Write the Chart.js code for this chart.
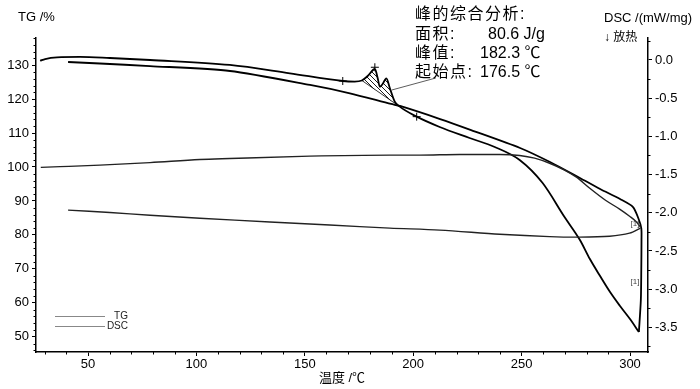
<!DOCTYPE html>
<html><head><meta charset="utf-8">
<script src="https://cdn.jsdelivr.net/npm/chart.js@4.4.0/dist/chart.umd.min.js"></script>
<style>html,body{margin:0;padding:0;background:#fff;}</style>
</head><body>
<canvas id="c" width="700" height="389"></canvas>
<script>
const FONT = "'Liberation Sans', Arial, 'Noto Sans CJK SC', sans-serif";

// ---- data (temperature °C, TG %, DSC mW/mg) ----
const tgHeatT   = [28.2, 37.1, 55.5, 78.6, 101.6, 115.4, 152.3, 189.2, 203.0, 221.4, 239.9, 249.1, 256.0, 262.9, 269.8, 275.3, 281.3, 288.7, 295.2, 299.8, 303.0, 304.8];
const tgHeatVal = [99.9, 100.1, 100.55, 101.3, 102.2, 102.5, 103.2, 103.5, 103.5, 103.7, 103.7, 103.4, 102.6, 101.1, 99.1, 97.0, 93.8, 90.2, 87.6, 85.5, 83.8, 82.3];

const tgCoolT   = [304.8, 299.8, 290.6, 276.7, 262.9, 239.9, 212.2, 189.2, 161.5, 133.9, 101.6, 78.6, 60.1, 40.8];
const tgCoolVal = [82.0, 80.5, 79.6, 79.35, 79.5, 80.2, 81.4, 82.0, 82.9, 83.8, 84.9, 85.8, 86.6, 87.3];

const dscHeatT   = [27.9, 30.2, 35.7, 46.3, 60.1, 78.6, 115.4, 143.1, 167.5, 173.0, 176.3, 179.0, 182.3, 183.6, 184.6, 185.9, 187.6, 189.2, 191.5, 193.8, 201.6, 212.2, 226.0, 237.6, 249.1, 259.7, 269.8, 276.9, 281.5, 286.2, 290.8, 295.4, 300.0, 304.1];
const dscHeatVal = [-0.01, 0.013, 0.035, 0.04, 0.026, 0.0, -0.065, -0.174, -0.275, -0.282, -0.268, -0.21, -0.118, -0.236, -0.35, -0.314, -0.24, -0.367, -0.546, -0.611, -0.742, -0.877, -1.021, -1.139, -1.309, -1.611, -2.056, -2.357, -2.606, -2.829, -3.038, -3.221, -3.392, -3.562];

const dscCoolT   = [304.1, 305.0, 305.2, 305.3, 305.2, 303.8, 301.4, 295.4, 286.2, 276.9, 263.1, 249.3, 226.7, 212.4, 193.9, 189.8, 170.8, 152.4, 115.5, 78.6, 55.5, 40.8];
const dscCoolVal = [-3.562, -3.143, -2.75, -2.357, -2.2, -2.069, -1.925, -1.82, -1.689, -1.545, -1.336, -1.152, -0.917, -0.773, -0.602, -0.576, -0.436, -0.327, -0.144, -0.079, -0.046, -0.026];

// peak analysis
const baselineT   = [176.3, 193.8];
const baselineDSC = [-0.268, -0.611];
const markerT   = [167.5, 182.3, 201.6];
const markerDSC = [-0.275, -0.095, -0.742];
const leaderT   = [190.1, 210.4];
const leaderDSC = [-0.393, -0.236];
const segMarkT   = [302.3, 302.3];
const segMarkDSC = [-2.147, -2.907];
const segMarkText = ['[1]', '[1]'];

const peakTitle  = '峰的综合分析:';
const peakLabels = ['面积:', '峰值:', '起始点:'];
const peakValues = ['80.6 J/g', '182.3 ℃', '176.5 ℃'];

// ticks
const xTicks   = [50, 100, 150, 200, 250, 300];
const tgTicks  = [50, 60, 70, 80, 90, 100, 110, 120, 130];
const dscTicks = [0.0, -0.5, -1.0, -1.5, -2.0, -2.5, -3.0, -3.5];
const xMinorStep = 10, tgMinorStep = 2, dscMinorStep = 0.25;

const pts = (xs, ys) => xs.map((x, i) => ({x: x, y: ys[i]}));

const canvas = document.getElementById('c');
const ctx0 = canvas.getContext('2d');
function makeHatch() {
  const c = document.createElement('canvas');
  c.width = 5; c.height = 5;
  const g = c.getContext('2d');
  g.strokeStyle = '#000'; g.lineWidth = 0.9;
  g.beginPath();
  g.moveTo(0, 0); g.lineTo(5, 5);
  g.moveTo(-1, 4); g.lineTo(1, 6);
  g.moveTo(4, -1); g.lineTo(6, 1);
  g.stroke();
  return ctx0.createPattern(c, 'repeat');
}
const hatch = makeHatch();

const peakPts = pts(dscHeatT, dscHeatVal).filter(p => p.x >= baselineT[0] && p.x <= baselineT[1]);

const extras = {
  id: 'extras',
  afterDraw(chart) {
    const {ctx, chartArea: a, scales} = chart;
    const xs = scales.x, yl = scales.y, yr = scales.y2;
    ctx.save();
    // minor ticks
    ctx.strokeStyle = '#000'; ctx.lineWidth = 1;
    ctx.beginPath();
    for (let k = Math.ceil(xs.min / xMinorStep); k * xMinorStep <= xs.max; k++) {
      const v = k * xMinorStep; if (xTicks.includes(v)) continue;
      const p = Math.round(xs.getPixelForValue(v)) + 0.5;
      ctx.moveTo(p, a.bottom); ctx.lineTo(p, a.bottom + 2.5);
    }
    for (let k = Math.ceil(yl.min / tgMinorStep); k * tgMinorStep <= yl.max; k++) {
      const v = k * tgMinorStep; if (tgTicks.includes(v)) continue;
      const p = Math.round(yl.getPixelForValue(v)) + 0.5;
      ctx.moveTo(a.left, p); ctx.lineTo(a.left - 2.5, p);
    }
    for (let k = Math.ceil(yr.min / dscMinorStep); k * dscMinorStep <= yr.max + 1e-9; k++) {
      if (k % 2 === 0) continue;
      const p = Math.round(yr.getPixelForValue(k * dscMinorStep)) + 0.5;
      ctx.moveTo(a.right, p); ctx.lineTo(a.right + 2.5, p);
    }
    ctx.stroke();

    ctx.fillStyle = '#000';
    ctx.textBaseline = 'middle';
    ctx.textAlign = 'left';
    // axis titles
    ctx.font = '13px ' + FONT;
    ctx.fillText('TG /%', 18, 17);
    ctx.fillText('DSC /(mW/mg)', 604, 18);
    ctx.font = '12px ' + FONT;
    ctx.fillText('↓ 放热', 604, 38);

    // peak analysis block
    const rows = [15, 34.3, 53.8, 72.8];
    ctx.font = '16px ' + FONT;
    try { ctx.letterSpacing = '1.5px'; } catch (e) {}
    ctx.fillText(peakTitle, 415, rows[0]);
    peakLabels.forEach((t, i) => ctx.fillText(t, 415, rows[i + 1]));
    try { ctx.letterSpacing = '0px'; } catch (e) {}
    const valX = [488, 480, 480];
    peakValues.forEach((t, i) => ctx.fillText(t, valX[i], rows[i + 1]));

    // segment marks
    ctx.font = '8px ' + FONT;
    ctx.fillStyle = '#444';
    ctx.textAlign = 'center';
    segMarkText.forEach((t, i) => ctx.fillText(t, xs.getPixelForValue(segMarkT[i]), yr.getPixelForValue(segMarkDSC[i])));

    // legend
    const labels = ['TG', 'DSC'];
    const ly = [316.5, 326.5];
    ctx.strokeStyle = '#888'; ctx.lineWidth = 1;
    ctx.font = '10px ' + FONT; ctx.fillStyle = '#222'; ctx.textAlign = 'right';
    labels.forEach((t, i) => {
      ctx.beginPath(); ctx.moveTo(a.left + 19, ly[i]); ctx.lineTo(a.left + 69, ly[i]); ctx.stroke();
      ctx.fillText(t, a.left + 92, ly[i]);
    });
    ctx.restore();
  }
};

new Chart(canvas, {
  type: 'line',
  data: {
    datasets: [
      {label: 'TG', data: pts(tgHeatT, tgHeatVal), yAxisID: 'y', borderColor: '#222', borderWidth: 1.4, pointRadius: 0, fill: false, cubicInterpolationMode: 'monotone'},
      {label: 'TG', data: pts(tgCoolT, tgCoolVal), yAxisID: 'y', borderColor: '#222', borderWidth: 1.4, pointRadius: 0, fill: false, tension: 0.3},
      {label: 'DSC', data: pts(dscHeatT, dscHeatVal), yAxisID: 'y2', borderColor: '#000', borderWidth: 1.8, pointRadius: 0, fill: false, cubicInterpolationMode: 'monotone'},
      {label: 'DSC', data: pts(dscCoolT, dscCoolVal), yAxisID: 'y2', borderColor: '#000', borderWidth: 1.8, pointRadius: 0, fill: false, tension: 0.25},
      {label: 'peak', data: peakPts, yAxisID: 'y2', borderWidth: 0, borderColor: 'rgba(0,0,0,0)', pointRadius: 0, fill: '+1', backgroundColor: hatch, cubicInterpolationMode: 'monotone'},
      {label: 'baseline', data: pts(baselineT, baselineDSC), yAxisID: 'y2', borderColor: '#000', borderWidth: 0.8, pointRadius: 0, fill: false},
      {label: 'marks', data: pts(markerT, markerDSC), yAxisID: 'y2', showLine: false, pointStyle: 'cross', pointRadius: 4, borderColor: '#000', borderWidth: 1, fill: false},
      {label: 'leader', data: pts(leaderT, leaderDSC), yAxisID: 'y2', borderColor: '#333', borderWidth: 0.8, pointRadius: 0, fill: false}
    ]
  },
  options: {
    responsive: false,
    animation: false,
    devicePixelRatio: 1,
    layout: {padding: {top: 38, left: 0, right: 0, bottom: 0}},
    plugins: {legend: {display: false}, tooltip: {enabled: false}},
    scales: {
      x: {
        type: 'linear', position: 'bottom', min: 26, max: 308.3,
        afterBuildTicks: s => { s.ticks = xTicks.map(v => ({value: v})); },
        afterFit: s => { s.height = 37; },
        grid: {drawOnChartArea: false, drawTicks: true, tickLength: 4, color: '#000'},
        border: {display: true, color: '#000', width: 1.5},
        ticks: {color: '#000', font: {family: FONT, size: 13}, padding: 1, maxRotation: 0, autoSkip: false},
        title: {display: true, text: '温度 /℃', color: '#000', font: {family: FONT, size: 13}, padding: {top: 0, bottom: 3}}
      },
      y: {
        type: 'linear', position: 'left', min: 45.5, max: 138,
        afterBuildTicks: s => { s.ticks = tgTicks.map(v => ({value: v})); },
        afterFit: s => { s.width = 36; },
        grid: {drawOnChartArea: false, drawTicks: true, tickLength: 4, color: '#000'},
        border: {display: true, color: '#000', width: 1.5},
        ticks: {color: '#000', font: {family: FONT, size: 13}, padding: 3, callback: v => String(v)}
      },
      y2: {
        type: 'linear', position: 'right', min: -3.823, max: 0.288,
        afterBuildTicks: s => { s.ticks = dscTicks.map(v => ({value: v})); },
        afterFit: s => { s.width = 52; },
        grid: {drawOnChartArea: false, drawTicks: true, tickLength: 4, color: '#000'},
        border: {display: true, color: '#000', width: 1.5},
        ticks: {color: '#000', font: {family: FONT, size: 13}, padding: 3, callback: v => Number(v).toFixed(1)}
      }
    }
  },
  plugins: [extras]
});
</script>
</body></html>
